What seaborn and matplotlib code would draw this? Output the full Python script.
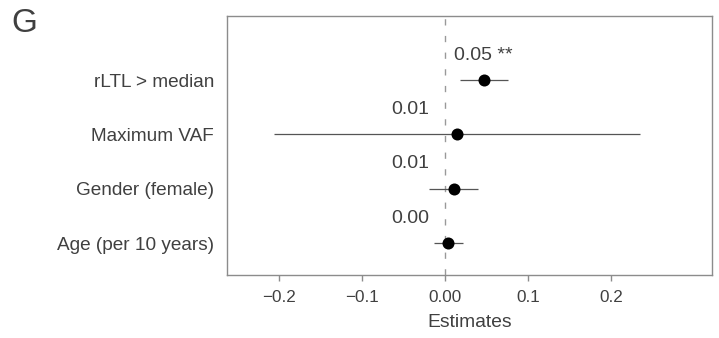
import numpy as np
import pandas as pd
import matplotlib as mpl
mpl.use("Agg")
import matplotlib.pyplot as plt
import seaborn as sns

# terms listed top to bottom
terms = ["rLTL > median", "Maximum VAF", "Gender (female)", "Age (per 10 years)"]
estimate = [0.046, 0.0135, 0.0106, 0.0035]
ci_low = [0.0175, -0.207, -0.020, -0.014]
ci_high = [0.075, 0.234, 0.039, 0.021]
labels = ["0.05 **", "0.01", "0.01", "0.00"]
significant = [True, False, False, False]

xticks = [-0.2, -0.1, 0.0, 0.1, 0.2]
xticklabels = ["\u22120.2", "\u22120.1", "0.00", "0.1", "0.2"]

sns.set_style("white")
plt.rcParams["font.family"] = ["Liberation Sans", "DejaVu Sans"]
txt = "#404040"
grey = "#8c8c8c"

n = len(terms)
df = pd.DataFrame({
    "term": terms,
    "est": estimate,
    "lo": ci_low,
    "hi": ci_high,
    "pos": np.arange(n)[::-1],
})

fig = plt.figure(figsize=(7.19, 3.38), dpi=100)
ax = fig.add_axes([0.316, 0.186, 0.674, 0.767])

ax.axvline(0, color="#999999", lw=1.0, ls=(0, (4.5, 7.5)), zorder=1)
ax.hlines(df["pos"], df["lo"], df["hi"], color="#555555", lw=0.9, zorder=2)
sns.scatterplot(data=df, x="est", y="pos", color="black", s=75,
                edgecolor="black", linewidth=0, zorder=3, ax=ax, legend=False)

for i, row in df.iterrows():
    if significant[i]:
        ax.annotate(labels[i], (row["est"], row["pos"]), xytext=(0, 18),
                    textcoords="offset points", ha="center", va="center",
                    fontsize=14, color=txt)
    else:
        ax.annotate(labels[i], (-0.019, row["pos"]), xytext=(0, 18),
                    textcoords="offset points", ha="right", va="center",
                    fontsize=14, color=txt)

ax.set_xlim(-0.263, 0.321)
ax.set_ylim(-0.59, n - 1 + 1.18)
ax.set_yticks(df["pos"])
ax.set_yticklabels(df["term"], fontsize=13.7, color=txt)
ax.set_xticks(xticks)
ax.set_xticklabels(xticklabels, fontsize=12.3, color=txt)
ax.tick_params(axis="x", bottom=True, length=4, width=1, color=grey, pad=7)
ax.tick_params(axis="y", left=False, pad=6)
ax.set_xlabel("Estimates", fontsize=13.9, color=txt, labelpad=6)
ax.set_ylabel("")
for sp in ax.spines.values():
    sp.set_color(grey)
    sp.set_linewidth(1)

fig.text(0.016, 0.905, "G", fontsize=24, color=txt, ha="left", va="baseline")

fig.savefig("out.png", dpi=100)
